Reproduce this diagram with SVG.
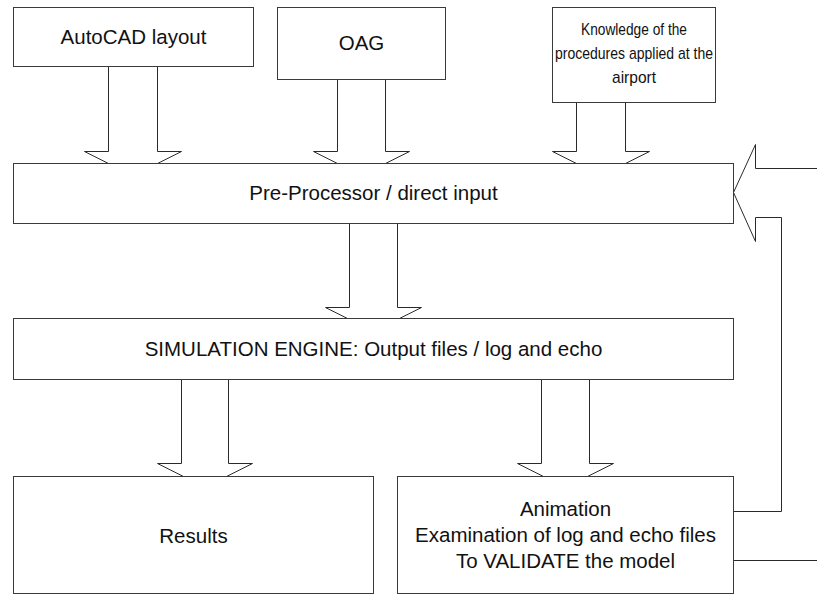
<svg xmlns="http://www.w3.org/2000/svg" width="817" height="595" viewBox="0 0 817 595">
  <style>
    .box { fill: #ffffff; stroke: #3a3a3a; stroke-width: 1; }
    .arrow { fill: #ffffff; stroke: #2a2a2a; stroke-width: 1; stroke-linejoin: miter; }
    .lbl { font-family: "Liberation Sans", Arial, sans-serif; font-size: 20.5px; fill: #111111; text-anchor: middle; }
    .lbl-sm { font-family: "Liberation Sans", Arial, sans-serif; font-size: 17px; fill: #111111; text-anchor: middle; }
  </style>
  <rect x="0" y="0" width="817" height="595" fill="#ffffff"/>

  <!-- block arrows; boxes are drawn afterwards and hide the ends -->
  <g id="connectors">
    <polygon class="arrow" points="108.5,60 157.5,60 157.5,151.5 181.5,151.5 133,175.75 84.5,151.5 108.5,151.5"/>
    <polygon class="arrow" points="337.5,70 385.5,70 385.5,151.5 409.5,151.5 361.5,175.5 313.5,151.5 337.5,151.5"/>
    <polygon class="arrow" points="576.5,95 625.5,95 625.5,151.5 649.5,151.5 601,175.75 552.5,151.5 576.5,151.5"/>
    <polygon class="arrow" points="349.5,215 397.5,215 397.5,307.5 421.5,307.5 373.5,331.5 325.5,307.5 349.5,307.5"/>
    <polygon class="arrow" points="181.5,370 228.5,370 228.5,463.5 252.5,463.5 205,487.25 157.5,463.5 181.5,463.5"/>
    <polygon class="arrow" points="541.5,370 589.5,370 589.5,463.5 613.5,463.5 565.5,487.5 517.5,463.5 541.5,463.5"/>
    <!-- feedback loop from Animation back to the pre-processor -->
    <polygon class="arrow" points="733.5,511.5 781.5,511.5 781.5,217.5 755.5,217.5 755.5,241.5 733.5,192.5 755.5,144.5 755.5,168.5 840,168.5 840,560.5 733.5,560.5"/>
  </g>

  <g id="autocad">
    <rect class="box" x="13.5" y="7.5" width="240" height="59"/>
    <text class="lbl" x="133.5" y="44">AutoCAD layout</text>
  </g>

  <g id="oag">
    <rect class="box" x="277.5" y="7.5" width="168" height="72"/>
    <text class="lbl" x="361.5" y="50">OAG</text>
  </g>

  <g id="knowledge">
    <rect class="box" x="552.5" y="7.5" width="163" height="95"/>
    <text class="lbl-sm" x="634" y="35" textLength="106" lengthAdjust="spacingAndGlyphs">Knowledge of the</text>
    <text class="lbl-sm" x="634" y="59" textLength="158" lengthAdjust="spacingAndGlyphs">procedures applied at the</text>
    <text class="lbl-sm" x="634" y="83" textLength="44" lengthAdjust="spacingAndGlyphs">airport</text>
  </g>

  <g id="preprocessor">
    <rect class="box" x="13.5" y="163.5" width="720" height="60"/>
    <text class="lbl" x="373.5" y="200">Pre-Processor / direct input</text>
  </g>

  <g id="engine">
    <rect class="box" x="13.5" y="318.5" width="720" height="61"/>
    <text class="lbl" x="373.5" y="356">SIMULATION ENGINE: Output files / log and echo</text>
  </g>

  <g id="results">
    <rect class="box" x="13.5" y="476.5" width="360" height="117"/>
    <text class="lbl" x="193.5" y="543">Results</text>
  </g>

  <g id="animation">
    <rect class="box" x="397.5" y="476.5" width="336" height="117"/>
    <text class="lbl" x="565.5" y="516">Animation</text>
    <text class="lbl" x="565.5" y="542">Examination of log and echo files</text>
    <text class="lbl" x="565.5" y="568">To VALIDATE the model</text>
  </g>
</svg>
